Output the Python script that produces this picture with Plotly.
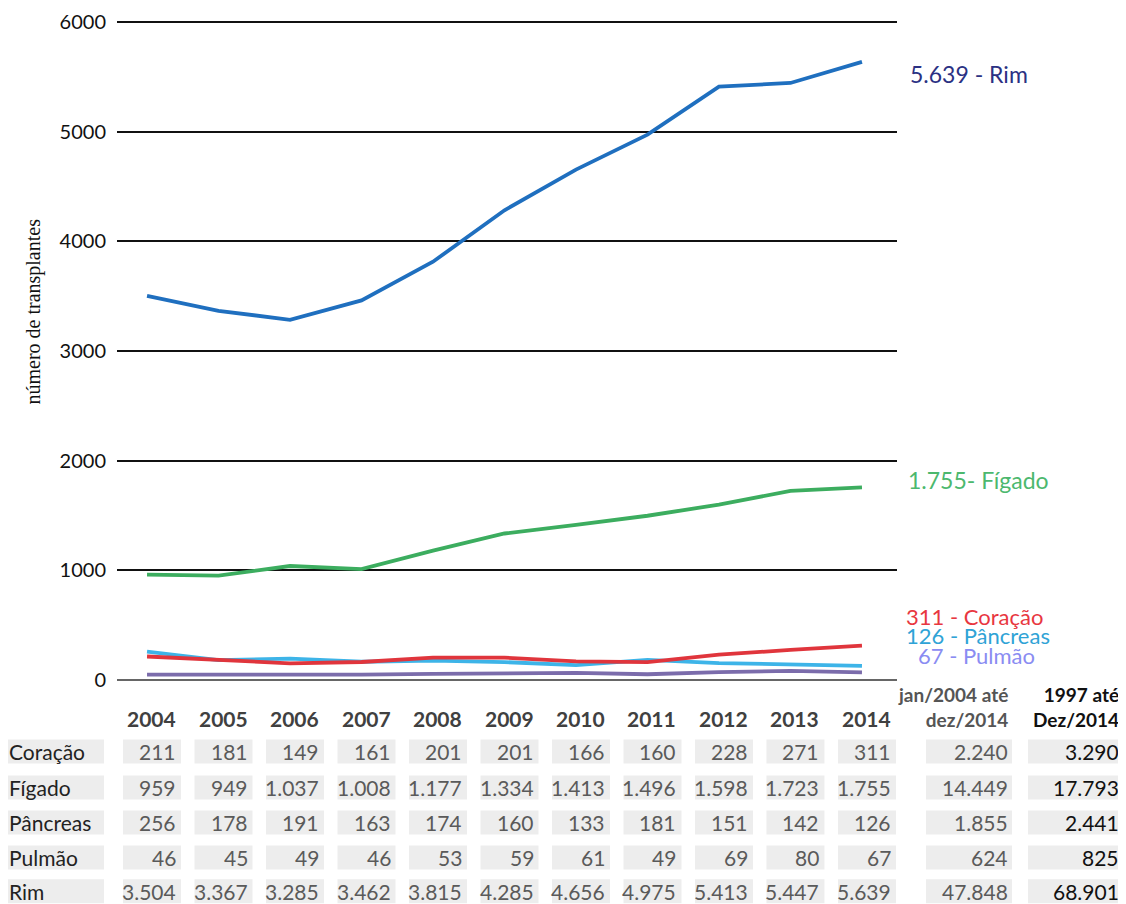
import plotly.graph_objects as go

years = [2004, 2005, 2006, 2007, 2008, 2009, 2010, 2011, 2012, 2013, 2014]
organs = ["Coração", "Fígado", "Pâncreas", "Pulmão", "Rim"]
coracao = [211, 181, 149, 161, 201, 201, 166, 160, 228, 271, 311]
figado = [959, 949, 1037, 1008, 1177, 1334, 1413, 1496, 1598, 1723, 1755]
pancreas = [256, 178, 191, 163, 174, 160, 133, 181, 151, 142, 126]
pulmao = [46, 45, 49, 46, 53, 59, 61, 49, 69, 80, 67]
rim = [3504, 3367, 3285, 3462, 3815, 4285, 4656, 4975, 5413, 5447, 5639]
total_2004_2014 = [2240, 14449, 1855, 624, 47848]
total_1997_2014 = [3290, 17793, 2441, 825, 68901]
yticks = [0, 1000, 2000, 3000, 4000, 5000, 6000]

series = [coracao, figado, pancreas, pulmao, rim]
line_colors = ["#e0353c", "#3cad5f", "#3db4e8", "#7b6cab", "#1f6fbf"]
label_colors = ["#e8373f", "#4cb86e", "#2fa3d6", "#8a8cf2", "#2b3183"]
label_text = ["{v} - Coração", "{v}- Fígado", "{v} - Pâncreas", "{v} - Pulmão", "{v} - Rim"]
label_ypix = [617, 480, 636, 656, 74]
label_xpix = [904, 906, 904, 916, 908]
label_size = [22, 23, 22, 22, 23]


def fmt(v):
    return f"{v:,}".replace(",", ".")


# page offset (browser body margin) and plot area in screen pixels
O = 8
W, H = 1126 - O, 904 - O
L, R, T, B = 117, 897, 22 - 4.4, 680 + 4.4


def px(X):
    return (X - L) / (R - L)


def py(Y):
    return (B - Y) / (B - T)


FONT = "Lato"
fig = go.Figure()
for i in [3, 2, 0, 1, 4]:
    fig.add_trace(go.Scatter(x=years, y=series[i], mode="lines", name=organs[i],
                             line=dict(color=line_colors[i], width=3.8), showlegend=False))

ann = []
shapes = []
for i, org in enumerate(organs):
    ann.append(dict(x=px(label_xpix[i]), y=py(label_ypix[i]), xref="paper", yref="paper",
                    xanchor="left", yanchor="middle", showarrow=False,
                    text=label_text[i].format(v=fmt(series[i][-1])),
                    font=dict(family=FONT, size=label_size[i], color=label_colors[i])))

ann.append(dict(x=px(20), y=py(312), xref="paper", yref="paper", textangle=-90,
                showarrow=False, text="número de transplantes",
                font=dict(family="Liberation Serif", size=20, color="#111")))

for yr in years:
    ann.append(dict(x=yr, y=py(719), xref="x", yref="paper", xanchor="right", yanchor="middle",
                    xshift=31, showarrow=False, text=f"<b>{yr}</b>",
                    font=dict(family=FONT, size=21, color="#404040")))
ann.append(dict(x=px(1010), y=py(707), xref="paper", yref="paper", xanchor="right", yanchor="middle",
                showarrow=False, align="right", text="<b>jan/2004 até<br>dez/2014</b>",
                font=dict(family=FONT, size=19, color="#555555")))
ann.append(dict(x=px(1121), y=py(707), xref="paper", yref="paper", xanchor="right", yanchor="middle",
                showarrow=False, align="right", text="<b>1997 até<br>Dez/2014</b>",
                font=dict(family=FONT, size=19, color="#111")))

row_y = [752, 788, 823, 858, 892]
bg = "#ededed"
for r, org in enumerate(organs):
    Y = row_y[r]
    y0, y1 = py(Y + 12), py(Y - 12)
    shapes.append(dict(type="rect", xref="paper", yref="paper", x0=px(0), x1=px(104),
                       y0=y0, y1=y1, fillcolor=bg, line=dict(width=0), layer="below"))
    ann.append(dict(x=px(7), y=py(Y), xref="paper", yref="paper", xanchor="left", yanchor="middle",
                    showarrow=False, text=org, font=dict(family=FONT, size=21, color="#222")))
    for c, yr in enumerate(years):
        shapes.append(dict(type="rect", xref="x", yref="paper", xsizemode="pixel", xanchor=yr,
                           x0=-24, x1=34, y0=y0, y1=y1, fillcolor=bg, line=dict(width=0), layer="below"))
        ann.append(dict(x=yr, y=py(Y), xref="x", yref="paper", xanchor="right", yanchor="middle",
                        xshift=31, showarrow=False, text=fmt(series[r][c]),
                        font=dict(family=FONT, size=21, color="#5a5a5a")))
    shapes.append(dict(type="rect", xref="paper", yref="paper", x0=px(926), x1=px(1012),
                       y0=y0, y1=y1, fillcolor=bg, line=dict(width=0), layer="below"))
    shapes.append(dict(type="rect", xref="paper", yref="paper", x0=px(1028), x1=px(1124),
                       y0=y0, y1=y1, fillcolor=bg, line=dict(width=0), layer="below"))
    ann.append(dict(x=px(1010), y=py(Y), xref="paper", yref="paper", xanchor="right", yanchor="middle",
                    showarrow=False, text=fmt(total_2004_2014[r]),
                    font=dict(family=FONT, size=21, color="#5a5a5a")))
    ann.append(dict(x=px(1121), y=py(Y), xref="paper", yref="paper", xanchor="right", yanchor="middle",
                    showarrow=False, text=fmt(total_1997_2014[r]),
                    font=dict(family=FONT, size=21, color="#111")))

fig.update_layout(
    width=W, height=H,
    margin=dict(l=L - O, r=W - (R - O), t=T - O, b=H - (B - O), autoexpand=False),
    paper_bgcolor="white", plot_bgcolor="white",
    xaxis=dict(range=[2003.58, 2014.49], showgrid=False, showticklabels=False, ticks="",
               zeroline=False, showline=False),
    yaxis=dict(range=[-40, 6040], tickvals=yticks, ticktext=[str(v) for v in yticks],
               showgrid=True, gridcolor="#111", gridwidth=2.2, zeroline=True,
               zerolinecolor="#666", zerolinewidth=1.5, showline=False, ticks="",
               ticklabelstandoff=10, tickfont=dict(family=FONT, size=20, color="#111")),
    annotations=ann, shapes=shapes,
)
fig.write_html("out.html")
